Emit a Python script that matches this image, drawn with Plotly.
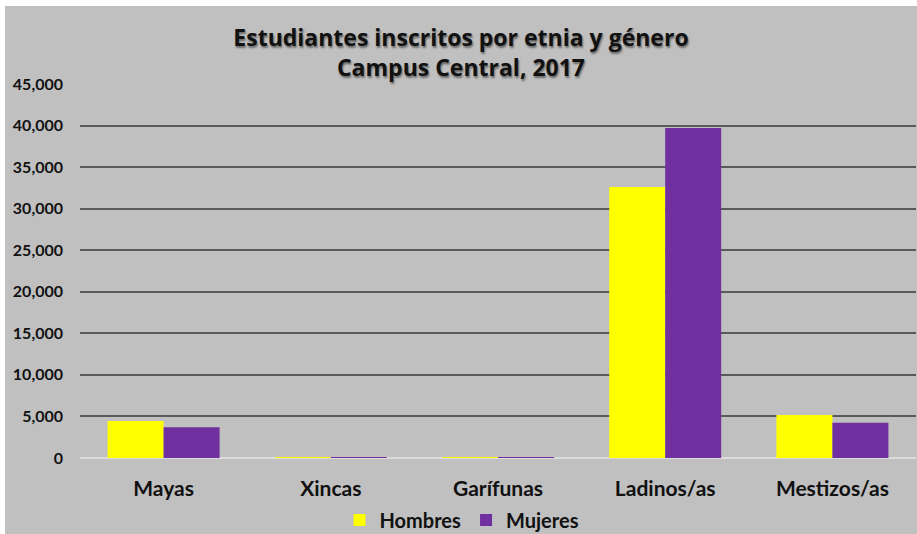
import plotly.graph_objects as go

categorias = ["Mayas", "Xincas", "Garífunas", "Ladinos/as", "Mestizos/as"]
hombres = [4440, 100, 90, 32600, 5160]
mujeres = [3710, 80, 70, 39700, 4250]
ticks_y = [0, 5000, 10000, 15000, 20000, 25000, 30000, 35000, 40000, 45000]
ticks_txt = ["0", "5,000", "10,000", "15,000", "20,000", "25,000", "30,000", "35,000", "40,000", "45,000"]

FONT = "Lato"
GRAY = "#c0c0c0"

fig = go.Figure()
fig.add_trace(go.Bar(name="Hombres", x=categorias, y=hombres, marker=dict(color="#ffff00", line=dict(width=0))))
fig.add_trace(go.Bar(name="Mujeres", x=categorias, y=mujeres, marker=dict(color="#7030a0", line=dict(width=0))))

W, H = 917, 534
L, R, T, B = 80, 1, 84, 534 - 458
pw, ph = W - L - R, H - T - B

fig.update_layout(
    width=W, height=H,
    margin=dict(l=L, r=R, t=T, b=B, autoexpand=False),
    paper_bgcolor=GRAY, plot_bgcolor=GRAY,
    barmode="group", bargap=0.33, bargroupgap=0,
    title=dict(
        text="Estudiantes inscritos por etnia y género<br>Campus Central, 2017",
        x=461 / W, xref="container", xanchor="center",
        y=1 - 46 / H, yref="container", yanchor="middle",
        font=dict(family="Open Sans", size=23, weight="bold", color="#111111",
                  shadow="1px 2px 2px rgba(0,0,0,0.45)"),
    ),
    font=dict(family=FONT, color="#111111"),
    xaxis=dict(
        tickfont=dict(family=FONT, size=21, weight="bold"),
        showgrid=False, showline=False, ticks="", ticklabelstandoff=16,
    ),
    yaxis=dict(
        range=[0, 45000], tickvals=ticks_y, ticktext=ticks_txt,
        tickfont=dict(family=FONT, size=16, weight="bold"),
        showgrid=True, gridcolor="#5a5a5a", gridwidth=2,
        zeroline=True, zerolinecolor="#dcdcdc", zerolinewidth=2,
        showline=False, ticks="", ticklabelstandoff=16,
    ),
    legend=dict(
        orientation="h", x=(462 - L) / pw, xanchor="center",
        y=-(520 - 458) / ph, yanchor="middle",
        font=dict(family=FONT, size=20, weight="bold"),
        bgcolor="rgba(0,0,0,0)", itemwidth=30, tracegroupgap=0,
    ),
    showlegend=True,
    shapes=[
        dict(type="rect", xref="paper", yref="paper", layer="above",
             x0=-L / pw, x1=(W - L) / pw, y0=1 + (T - 6) / ph, y1=1 + T / ph,
             fillcolor="white", line=dict(width=0)),
        dict(type="rect", xref="paper", yref="paper", layer="above",
             x0=-L / pw, x1=-(L - 5) / pw, y0=-B / ph, y1=1 + T / ph,
             fillcolor="white", line=dict(width=0)),
    ],
)

fig.write_html(
    "out.html",
    config={"displayModeBar": False},
    post_script="document.body.style.margin='0';document.body.style.overflow='hidden';",
)
